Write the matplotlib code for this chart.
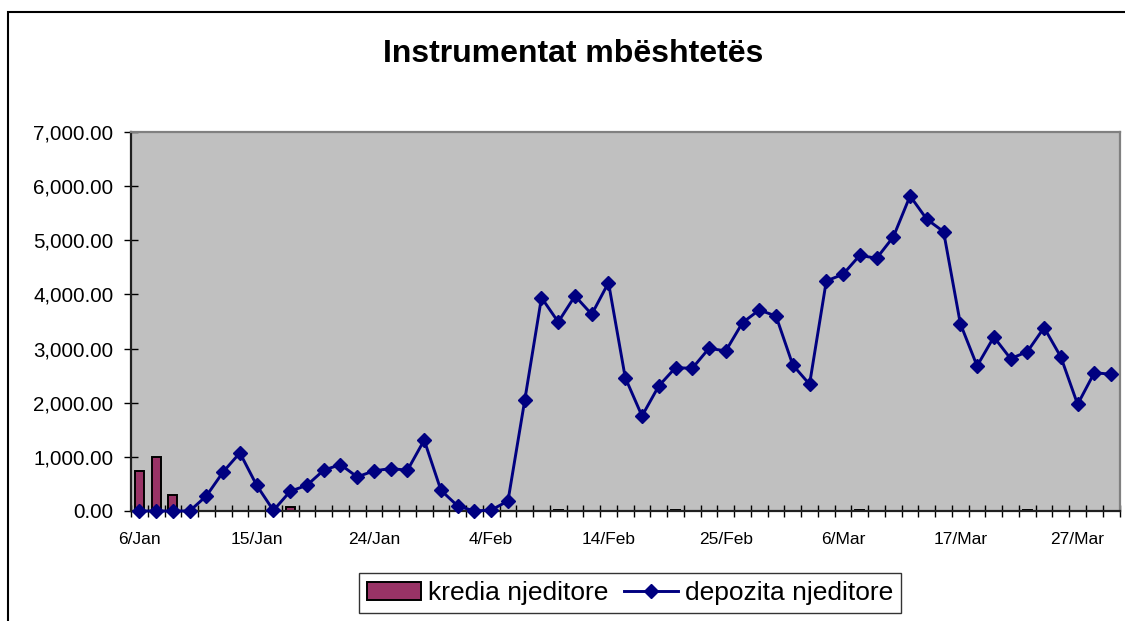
import numpy as np
import matplotlib
matplotlib.use("Agg")
import matplotlib.pyplot as plt
from matplotlib.patches import Rectangle

###########################################################
###              Data
###########################################################
TITLE = "Instrumentat mbështetës"

# one value per working day, 59 categories
depozita = [0, 0, 0, 0, 278, 722, 1074, 475, 10, 364,
            475, 753, 858, 630, 741, 784, 753, 1309, 383, 92,
            0, 18, 185, 2044, 3941, 3491, 3972, 3633, 4218, 2463,
            1755, 2309, 2648, 2635, 3005, 2956, 3479, 3713, 3600, 2697,
            2340, 4249, 4372, 4723, 4667, 5062, 5819, 5388, 5160, 3461,
            2679, 3214, 2814, 2943, 3387, 2845, 1970, 2555, 2525]

# kredia njeditore: only a few days have a value
kredia_idx = [0, 1, 2, 9, 25, 32, 43, 53]
kredia_val = [741, 1000, 302, 80, 25, 25, 25, 25]

date_labels = ["6/Jan", "15/Jan", "24/Jan", "4/Feb", "14/Feb",
               "25/Feb", "6/Mar", "17/Mar", "27/Mar"]
label_step = 7

y_ticks = [0, 1000, 2000, 3000, 4000, 5000, 6000, 7000]

###########################################################
###              Plot
###########################################################
plt.rcParams['font.family'] = ['Liberation Sans', 'DejaVu Sans']

W, H = 1125, 621
fig = plt.figure(figsize=(W / 100, H / 100), dpi=100)
ax = fig.add_axes([131 / W, 1 - 511 / H, (1119.5 - 131) / W, (511 - 132) / H])
ax.set_facecolor('#C0C0C0')

n = len(depozita)
x = np.arange(n)

bars = ax.bar(kredia_idx, kredia_val, width=0.55, color='#993366',
              edgecolor='black', linewidth=1.4, zorder=2)
line, = ax.plot(x, depozita, color='#000080', lw=2.1, marker='D', ms=7.6,
                mfc='#000080', mec='#000080', mew=1, zorder=3, clip_on=False)

ax.set_xlim(-0.5, n - 0.5)
ax.set_ylim(0, 7000)

# category boundaries get the tick marks, labels sit on every 7th category
ax.set_xticks(np.arange(n + 1) - 0.5)
ax.set_xticklabels([])
ax.tick_params(axis='x', which='major', direction='inout', length=8.4,
               width=1, color='black')
ax.set_xticks(np.arange(0, n, label_step), date_labels, minor=True)
ax.tick_params(axis='x', which='minor', length=0, pad=15, labelsize=12.5)

ax.set_yticks(y_ticks)
ax.set_yticklabels(['{:,.2f}'.format(v) for v in y_ticks])
ax.tick_params(axis='y', direction='inout', length=9.4, width=1,
               color='black', pad=8, labelsize=14.8)

for s in ['top', 'right']:
    ax.spines[s].set_color('#808080')
    ax.spines[s].set_linewidth(1.6)
for s in ['left', 'bottom']:
    ax.spines[s].set_color('#202020')
    ax.spines[s].set_linewidth(1.6)

fig.text(573 / W, 1 - 61.7 / H, TITLE, ha='center', va='baseline',
         fontsize=23, fontweight='bold')

leg = fig.legend([bars, line], ['kredia njeditore', 'depozita njeditore'],
                 loc='center', bbox_to_anchor=(630 / W, 1 - 593 / H), ncol=2,
                 fontsize=19, frameon=True, fancybox=False, shadow=False,
                 handlelength=2.05, handletextpad=0.27, columnspacing=0.6,
                 borderpad=0.3, borderaxespad=0)
leg.get_frame().set_edgecolor('black')
leg.get_frame().set_linewidth(1)

# outer chart border (runs off the right and bottom of the picture)
fig.patches.append(Rectangle((8 / W, -0.2), 1.2, 1.2 - 11.7 / H,
                             transform=fig.transFigure, fill=False,
                             edgecolor='black', linewidth=1.5))

fig.savefig('out.png', dpi=100)
